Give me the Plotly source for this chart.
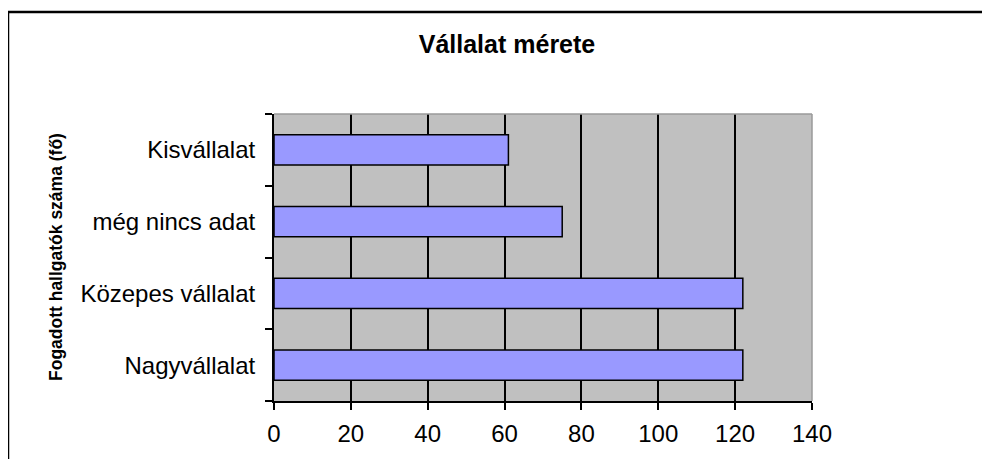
import plotly.graph_objects as go

# chart data
categories = ['Nagyvállalat', 'Közepes vállalat', 'még nincs adat', 'Kisvállalat']
counts = [122, 122, 75, 61]
x_ticks = [0, 20, 40, 60, 80, 100, 120, 140]

title_text = 'Vállalat mérete'
y_title = 'Fogadott hallgatók száma (fő)'

fig = go.Figure()
fig.add_trace(go.Bar(y=categories, x=counts, orientation='h', width=0.42,
                     marker=dict(color='#9999FF', line=dict(color='black', width=1.5)),
                     showlegend=False))

# page has an 8px body margin, so figure coords = screen coords - 8
OFF = 8
W, H = 990, 459
L, T = 274 - OFF, 114 - OFF
R, B = W - (812 - OFF), H - (401 - OFF)
pw, ph = W - L - R, H - T - B

fig.update_layout(
    width=W, height=H,
    margin=dict(l=L, r=R, t=T, b=B, pad=0),
    paper_bgcolor='white', plot_bgcolor='#C0C0C0',
    font=dict(family='Liberation Sans, Arial, sans-serif', color='black'),
    title=dict(text='<b>' + title_text + '</b>', x=(507 - OFF) / W, y=1 - (44 - OFF) / H,
               xanchor='center', yanchor='middle', xref='container', yref='container',
               font=dict(size=25, color='black')),
    bargap=0.58,
)

fig.update_xaxes(range=[0, 140], tickvals=x_ticks, showgrid=True, gridcolor='black', gridwidth=1.5,
                 zeroline=False, showline=True, linecolor='black', linewidth=2,
                 ticks='outside', ticklen=7, tickwidth=1.5, tickcolor='black',
                 tickfont=dict(size=24), ticklabelstandoff=3)
fig.update_yaxes(type='category', categoryorder='array', categoryarray=categories,
                 showgrid=False, zeroline=False, showline=True, linecolor='black', linewidth=2,
                 ticks='outside', ticklen=7, tickwidth=1.5, tickcolor='black', tickson='boundaries',
                 tickfont=dict(size=24), ticklabelstandoff=12)

# gray top/right edges of plot area (covers the 140 gridline)
fig.add_shape(type='line', xref='paper', yref='paper', x0=0, x1=1, y0=1, y1=1,
              line=dict(color='#9a9a9a', width=1.5), layer='above')
fig.add_shape(type='line', xref='paper', yref='paper', x0=1, x1=1, y0=0, y1=1,
              line=dict(color='#9a9a9a', width=1.5), layer='above')

# outer chart frame (right and bottom fall outside the picture)
fig.add_shape(type='rect', xref='paper', yref='paper',
              x0=(8 - 274) / pw, x1=1.6, y0=-0.4, y1=(401 - 12) / ph,
              line=dict(color='black', width=2.5), layer='above')

fig.add_annotation(text='<b>' + y_title + '</b>', textangle=-90, showarrow=False,
                   xref='paper', yref='paper', x=(56 - 274) / pw, y=(401 - 257) / ph,
                   xanchor='center', yanchor='middle', font=dict(size=17.5, color='black'))

fig.write_html('out.html')
